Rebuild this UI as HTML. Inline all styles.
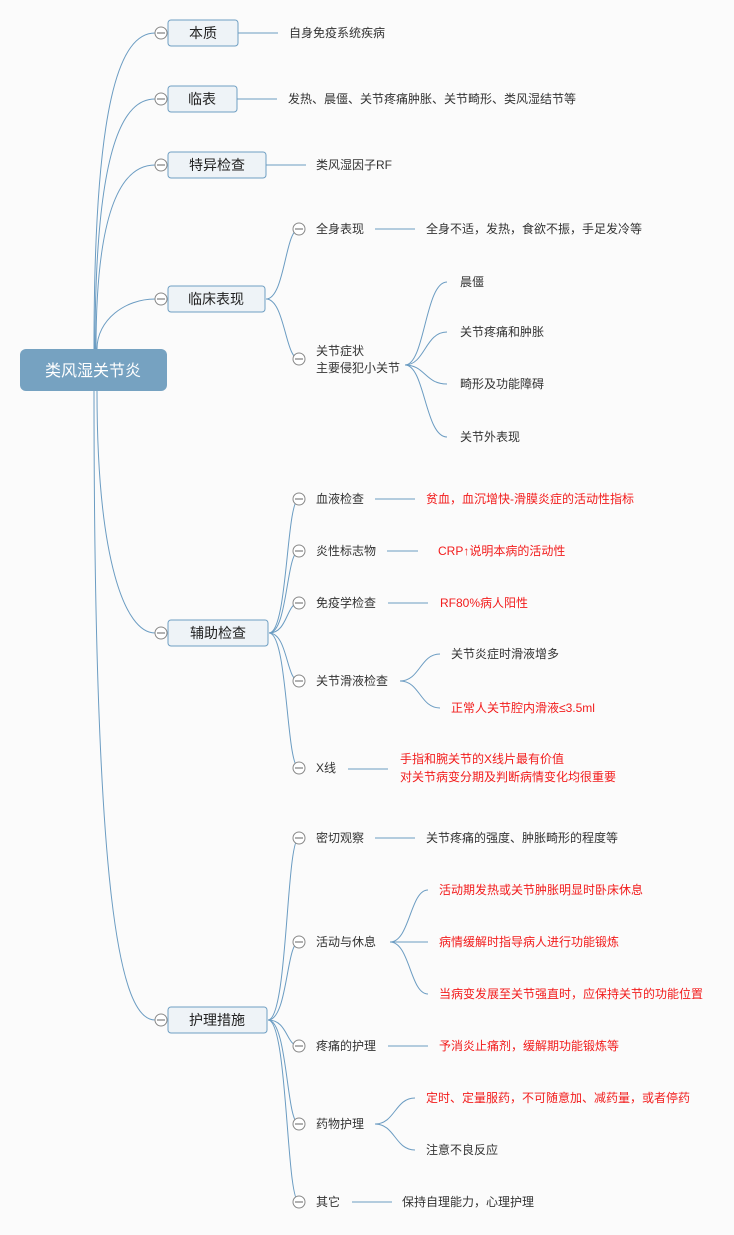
<!DOCTYPE html>
<html><head><meta charset="utf-8"><style>
html,body{margin:0;padding:0;background:#fbfbfb}
svg{display:block}
text{font-family:"Liberation Sans","Noto Sans CJK SC",sans-serif;font-size:12px;fill:#333}
.r{fill:#f21c1c}
.b{font-size:14px;fill:#222}
.l{fill:none;stroke:#6b9cc2;stroke-width:1}
.box{fill:#eef3f7;stroke:#6f9fc3;stroke-width:1}
.c{fill:#fff;stroke:#888;stroke-width:1}
.m{stroke:#666;stroke-width:1}
</style></head><body>
<svg width="734" height="1235" viewBox="0 0 734 1235" xmlns="http://www.w3.org/2000/svg">
<!-- trunks -->
<path class="l" d="M94 349 C94 100,120 33,155 33"/>
<path class="l" d="M95 349 C95 140,125 99,155 99"/>
<path class="l" d="M96 349 C96 200,125 165,155 165"/>
<path class="l" d="M97 349 C97 320,125 299,155 299"/>
<path class="l" d="M97 391 C97 560,125 633,155 633"/>
<path class="l" d="M94 391 C94 900,120 1020,155 1020"/>
<rect x="20" y="349" width="147" height="42" rx="6" fill="#76a2c1"/>
<text x="93" y="376" text-anchor="middle" style="font-size:16px;fill:#fff">类风湿关节炎</text>

<!-- L1 boxes -->
<rect class="box" x="168" y="20" width="70" height="26" rx="3"/><text class="b" x="203" y="38" text-anchor="middle">本质</text>
<rect class="box" x="168" y="86" width="69" height="26" rx="3"/><text class="b" x="202" y="104" text-anchor="middle">临表</text>
<rect class="box" x="168" y="152" width="98" height="26" rx="3"/><text class="b" x="217" y="170" text-anchor="middle">特异检查</text>
<rect class="box" x="168" y="286" width="97" height="26" rx="3"/><text class="b" x="216" y="304" text-anchor="middle">临床表现</text>
<rect class="box" x="168" y="620" width="100" height="26" rx="3"/><text class="b" x="218" y="638" text-anchor="middle">辅助检查</text>
<rect class="box" x="168" y="1007" width="99" height="26" rx="3"/><text class="b" x="217" y="1025" text-anchor="middle">护理措施</text>

<!-- L1 leaves -->
<path class="l" d="M238 33H278"/><text x="289" y="37">自身免疫系统疾病</text>
<path class="l" d="M237 99H277"/><text x="288" y="103">发热、晨僵、关节疼痛肿胀、关节畸形、类风湿结节等</text>
<path class="l" d="M266 165H306"/><text x="316" y="169">类风湿因子RF</text>

<!-- 临床表现 -->
<path class="l" d="M266 299 C285 299,285 229,299 229"/>
<path class="l" d="M266 299 C285 299,285 359,299 359"/>
<text x="316" y="233">全身表现</text>
<path class="l" d="M375 229H415"/><text x="426" y="233">全身不适，发热，食欲不振，手足发冷等</text>
<text x="316" y="355">关节症状</text><text x="316" y="372">主要侵犯小关节</text>
<path class="l" d="M405 365 C425 365,425 282,447 282"/>
<path class="l" d="M405 365 C425 365,425 332,447 332"/>
<path class="l" d="M405 365 C425 365,425 384,447 384"/>
<path class="l" d="M405 365 C425 365,425 437,447 437"/>
<text x="460" y="286">晨僵</text>
<text x="460" y="336">关节疼痛和肿胀</text>
<text x="460" y="388">畸形及功能障碍</text>
<text x="460" y="441">关节外表现</text>

<!-- 辅助检查 -->
<path class="l" d="M269 633 C288 633,286 499,299 499"/>
<path class="l" d="M269 633 C288 633,286 551,299 551"/>
<path class="l" d="M269 633 C288 633,286 603,299 603"/>
<path class="l" d="M269 633 C288 633,286 681,299 681"/>
<path class="l" d="M269 633 C288 633,286 768,299 768"/>
<text x="316" y="503">血液检查</text><path class="l" d="M375 499H415"/><text class="r" x="426" y="503">贫血，血沉增快-滑膜炎症的活动性指标</text>
<text x="316" y="555">炎性标志物</text><path class="l" d="M387 551H418"/><text class="r" x="438" y="555">CRP↑说明本病的活动性</text>
<text x="316" y="607">免疫学检查</text><path class="l" d="M388 603H428"/><text class="r" x="440" y="607">RF80%病人阳性</text>
<text x="316" y="685">关节滑液检查</text>
<path class="l" d="M400 681 C420 681,420 654,440 654"/>
<path class="l" d="M400 681 C420 681,420 708,440 708"/>
<text x="451" y="658">关节炎症时滑液增多</text>
<text class="r" x="451" y="712">正常人关节腔内滑液≤3.5ml</text>
<text x="316" y="772">X线</text><path class="l" d="M348 769H388"/>
<text class="r" x="400" y="763">手指和腕关节的X线片最有价值</text>
<text class="r" x="400" y="781">对关节病变分期及判断病情变化均很重要</text>

<!-- 护理措施 -->
<path class="l" d="M268 1020 C288 1020,286 838,299 838"/>
<path class="l" d="M268 1020 C288 1020,286 942,299 942"/>
<path class="l" d="M268 1020 C288 1020,286 1046,299 1046"/>
<path class="l" d="M268 1020 C288 1020,286 1124,299 1124"/>
<path class="l" d="M268 1020 C288 1020,286 1202,299 1202"/>
<text x="316" y="842">密切观察</text><path class="l" d="M375 838H415"/><text x="426" y="842">关节疼痛的强度、肿胀畸形的程度等</text>
<text x="316" y="946">活动与休息</text>
<path class="l" d="M390 942 C410 942,410 890,428 890"/>
<path class="l" d="M390 942H428"/>
<path class="l" d="M390 942 C410 942,410 994,428 994"/>
<text class="r" x="439" y="894">活动期发热或关节肿胀明显时卧床休息</text>
<text class="r" x="439" y="946">病情缓解时指导病人进行功能锻炼</text>
<text class="r" x="439" y="998">当病变发展至关节强直时，应保持关节的功能位置</text>
<text x="316" y="1050">疼痛的护理</text><path class="l" d="M388 1046H428"/><text class="r" x="439" y="1050">予消炎止痛剂，缓解期功能锻炼等</text>
<text x="316" y="1128">药物护理</text>
<path class="l" d="M375 1124 C395 1124,395 1098,415 1098"/>
<path class="l" d="M375 1124 C395 1124,395 1150,415 1150"/>
<text class="r" x="426" y="1102">定时、定量服药，不可随意加、减药量，或者停药</text>
<text x="426" y="1154">注意不良反应</text>
<text x="316" y="1206">其它</text><path class="l" d="M352 1202H392"/><text x="402" y="1206">保持自理能力，心理护理</text>

<!-- collapse circles -->
<g>
<circle class="c" cx="161" cy="33" r="6"/><path class="m" d="M157 33H165"/>
<circle class="c" cx="161" cy="99" r="6"/><path class="m" d="M157 99H165"/>
<circle class="c" cx="161" cy="165" r="6"/><path class="m" d="M157 165H165"/>
<circle class="c" cx="161" cy="299" r="6"/><path class="m" d="M157 299H165"/>
<circle class="c" cx="161" cy="633" r="6"/><path class="m" d="M157 633H165"/>
<circle class="c" cx="161" cy="1020" r="6"/><path class="m" d="M157 1020H165"/>
<circle class="c" cx="299" cy="229" r="6"/><path class="m" d="M295 229H303"/>
<circle class="c" cx="299" cy="359" r="6"/><path class="m" d="M295 359H303"/>
<circle class="c" cx="299" cy="499" r="6"/><path class="m" d="M295 499H303"/>
<circle class="c" cx="299" cy="551" r="6"/><path class="m" d="M295 551H303"/>
<circle class="c" cx="299" cy="603" r="6"/><path class="m" d="M295 603H303"/>
<circle class="c" cx="299" cy="681" r="6"/><path class="m" d="M295 681H303"/>
<circle class="c" cx="299" cy="768" r="6"/><path class="m" d="M295 768H303"/>
<circle class="c" cx="299" cy="838" r="6"/><path class="m" d="M295 838H303"/>
<circle class="c" cx="299" cy="942" r="6"/><path class="m" d="M295 942H303"/>
<circle class="c" cx="299" cy="1046" r="6"/><path class="m" d="M295 1046H303"/>
<circle class="c" cx="299" cy="1124" r="6"/><path class="m" d="M295 1124H303"/>
<circle class="c" cx="299" cy="1202" r="6"/><path class="m" d="M295 1202H303"/>
</g>
</svg>
</body></html>
